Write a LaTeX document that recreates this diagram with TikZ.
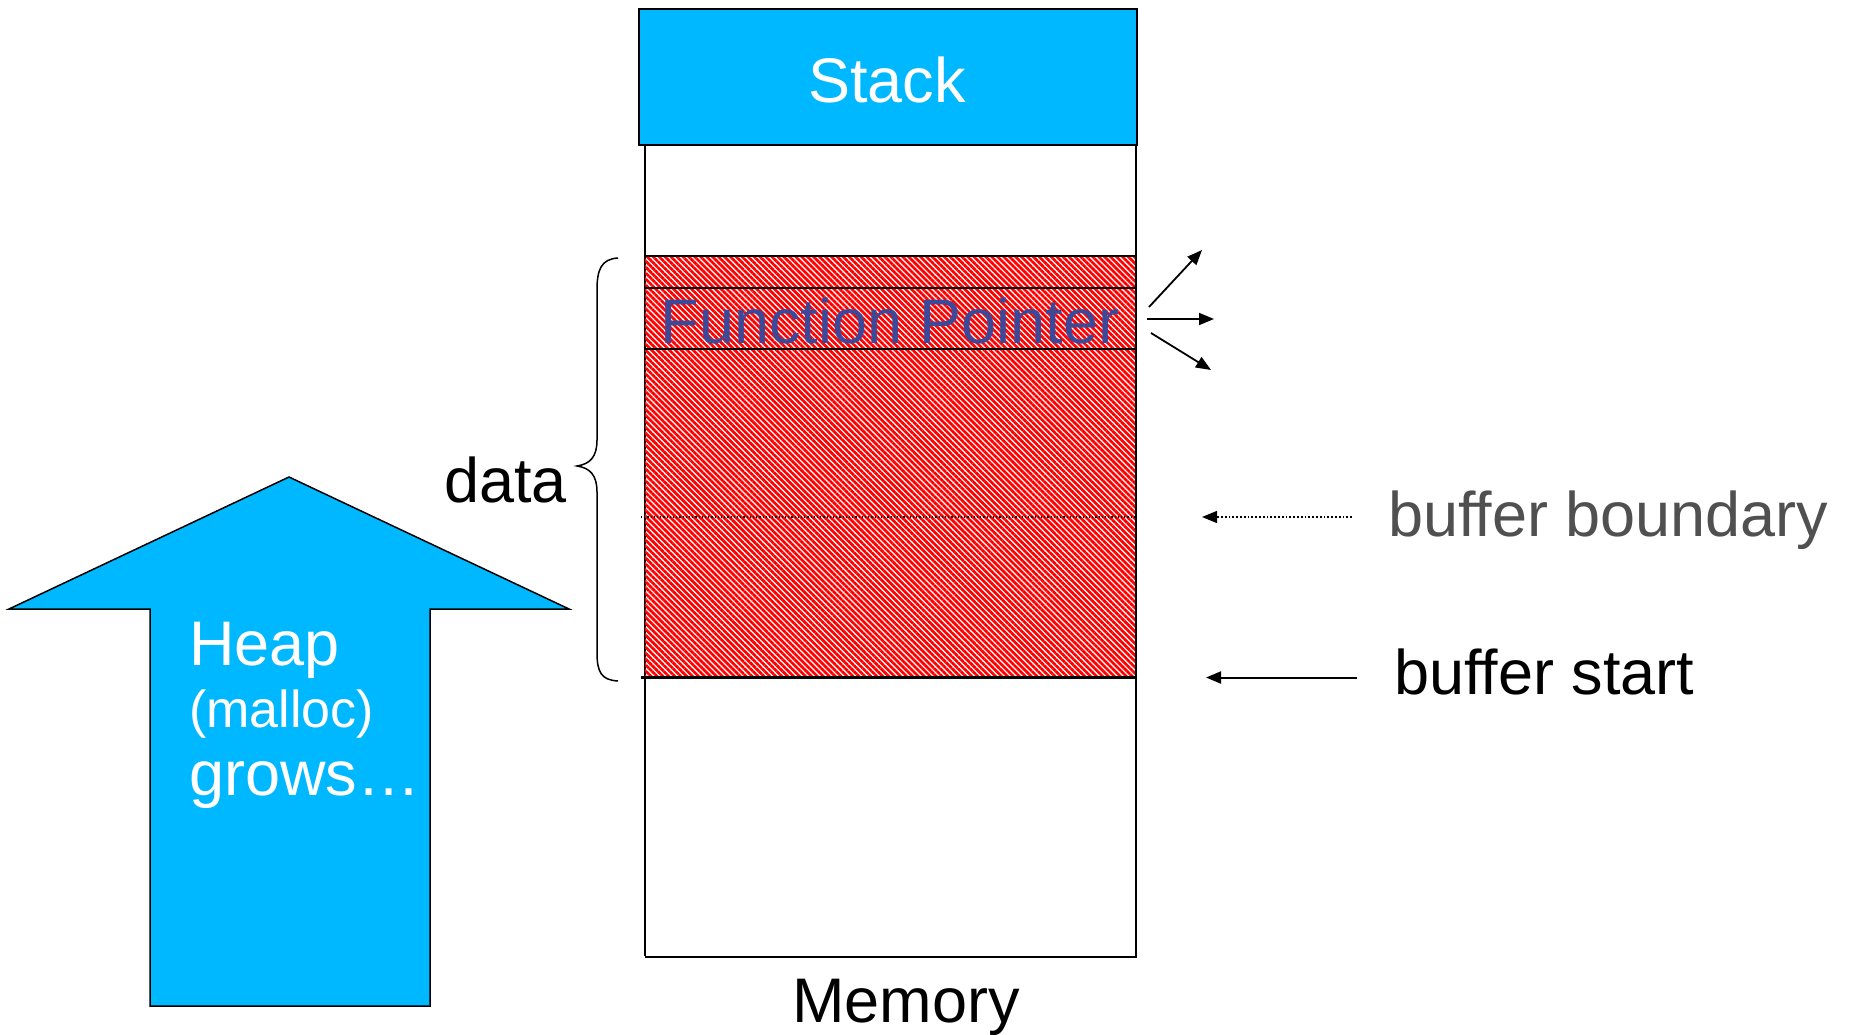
\documentclass[tikz,border=0pt]{standalone}
\usepackage{fontspec}
\setmainfont[Ligatures=CommonOff]{Liberation Sans}
\usetikzlibrary{arrows.meta,patterns.meta}
\definecolor{skyb}{RGB}{0,184,255}
\definecolor{fpblue}{RGB}{60,72,152}
\definecolor{bgray}{RGB}{80,80,80}
\begin{document}
\begin{tikzpicture}[x=1pt,y=-1pt,
  lbl/.style={font=\fontsize{63}{70}\selectfont, inner sep=0pt},
  smalllbl/.style={font=\fontsize{52}{60}\selectfont, inner sep=0pt},
  tipline/.style={-{Triangle[length=15pt,width=12pt]}, line width=1.8pt},
  hatch/.style={pattern={Lines[angle=-45,distance=4.2pt,line width=2.7pt]}, pattern color=red},
  box/.style={line width=1.5pt}]
\useasboundingbox (0,0) rectangle (1851,1035);

% memory column
\node[draw, box, minimum width=491pt, minimum height=812pt, inner sep=0pt, anchor=north west] (mem) at (644.5,144) {};
% overflowed data region
\path[hatch] (644.5,256) rectangle (1135.5,677.5);
\draw[box] (644.5,256) -- (1135.5,256);
\draw[box] (644.5,288) -- (1135.5,288);
\draw[box] (644.5,349) -- (1135.5,349);
\draw[dotted, line width=1.2pt] (641,517) -- (1135.5,517);
\draw[line width=2.2pt] (641,677.5) -- (1135.5,677.5);
\draw[box] (644.5,144) -- (644.5,956) (1135.5,144) -- (1135.5,956);

% stack
\node[draw, line width=2pt, fill=skyb, minimum width=498pt, minimum height=136pt, inner sep=0pt, anchor=north west] (stack) at (637.5,8) {};
\node[lbl, white, anchor=base] (stacklbl) at (887,103) {Stack};

% heap arrow
\draw[fill=skyb, box] (289,477) -- (569,609) -- (430,609) -- (430,1006) -- (150,1006) -- (150,609) -- (9,609) -- cycle;
\node[lbl, white, anchor=base west] (heap) at (189,665) {Heap};
\node[smalllbl, white, anchor=base west] (malloc) at (189,727) {(malloc)};
\node[lbl, white, anchor=base west] (grows) at (189,795) {grows…};

% brace
\draw[box] (618,258) .. controls (601,259) and (597,270) .. (597,290) -- (597,440)
  .. controls (597,457) and (590,464) .. (577,466)
  .. controls (590,468) and (597,475) .. (597,492) -- (597,652)
  .. controls (597,672) and (601,680) .. (618,681);
\node[lbl, anchor=base east] (data) at (567,502) {data};

% labels
\node[lbl, fpblue, anchor=base] (fp) at (890,343) {Function Pointer};
\node[lbl, anchor=base] (memlbl) at (906,1022) {Memory};

% function pointer arrows
\coordinate (a1s) at (1149,307); \coordinate (a1e) at (1202,250);
\coordinate (a2s) at (1147,319); \coordinate (a2e) at (1214,319);
\coordinate (a3s) at (1151,333); \coordinate (a3e) at (1211,370);
\draw[tipline] (a1s) -- (a1e);
\draw[tipline] (a2s) -- (a2e);
\draw[tipline] (a3s) -- (a3e);

% buffer arrows
\coordinate (bbs) at (1352,517); \coordinate (bbe) at (1202,517);
\coordinate (bss) at (1357,677.5); \coordinate (bse) at (1206,677.5);
\draw[tipline, dotted, line width=1.3pt] (bbs) -- (bbe);
\draw[tipline, line width=2pt] (bss) -- (bse);
\node[lbl, bgray, anchor=base west] (bbl) at (1388,536) {buffer boundary};
\node[lbl, anchor=base west] (bsl) at (1394,694) {buffer start};
\end{tikzpicture}
\end{document}
